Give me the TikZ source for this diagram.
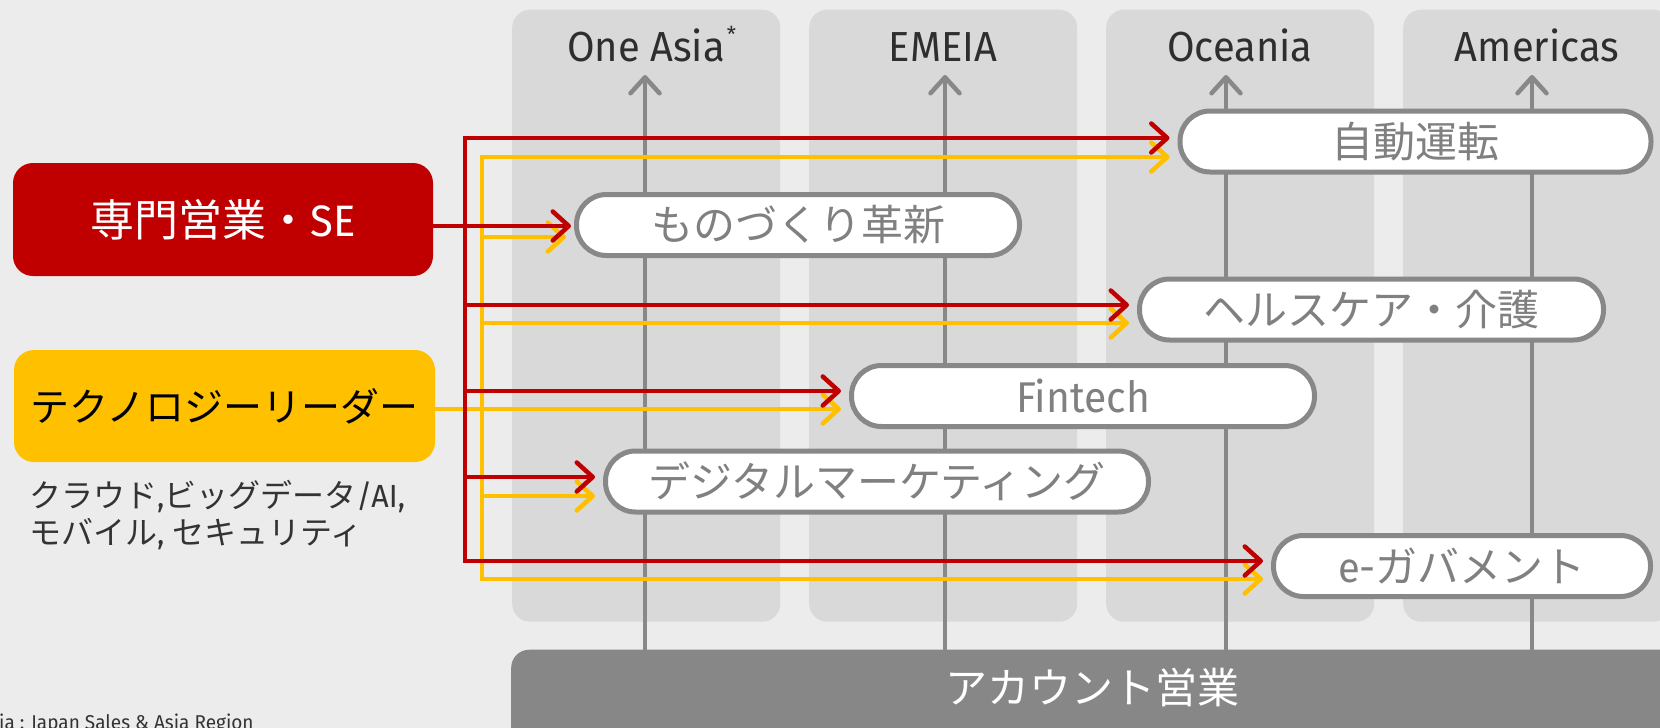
\documentclass[tikz,border=0pt]{standalone}
\usepackage{fontspec}
\setmainfont{Fira Sans}[FakeStretch=0.95]
\newfontfamily\jp{Noto Sans CJK JP}
\usetikzlibrary{arrows.meta,calc}
\definecolor{bgc}{HTML}{ECECEC}
\definecolor{colbg}{HTML}{D9D9D9}
\definecolor{barc}{HTML}{878787}
\definecolor{lanec}{HTML}{888888}
\definecolor{pilltext}{HTML}{808080}
\definecolor{labeltext}{HTML}{2E2E2E}
\definecolor{fjred}{HTML}{C00000}
\definecolor{fjyel}{HTML}{FFC000}
\definecolor{subtext}{HTML}{333333}
\tikzset{
  colbox/.style={fill=colbg, draw=none, rounded corners=18pt, minimum width=268pt, minimum height=612pt, inner sep=0pt, anchor=north west},
  barbox/.style={fill=barc, draw=none, rounded corners=18pt, minimum width=1250pt, minimum height=150pt, inner sep=0pt, anchor=north west},
  pill/.style={draw=lanec, line width=5pt, fill=white, rounded corners=30pt, minimum height=61pt, inner sep=0pt, text=pilltext, font=\fontsize{42pt}{50pt}\selectfont\jp},
  lbl/.style={text=labeltext, inner sep=0pt, anchor=base, font=\fontsize{42pt}{50pt}\selectfont},
  garrow/.style={draw=lanec, line width=4.5pt, -{Straight Barb[length=16pt,width=29pt,round]}},
  rline/.style={draw=fjred, line width=4.5pt},
  yline/.style={draw=fjyel, line width=4.5pt},
  rarrow/.style={rline, -{Straight Barb[length=16pt,width=29pt,round]}},
  yarrow/.style={yline, -{Straight Barb[length=16pt,width=29pt,round]}},
}
\begin{document}
\begin{tikzpicture}[x=1pt,y=-1pt]
\useasboundingbox (0,0) rectangle (1660,728);
\clip (0,0) rectangle (1660,728);
\fill[bgc] (0,0) rectangle (1660,728);
% columns
\node[colbox] (c1) at (512,9.5) {};
\node[colbox] (c2) at (809,9.5) {};
\node[colbox] (c3) at (1106,9.5) {};
\node[colbox] (c4) at (1403,9.5) {};
% bottom bar
\node[barbox] (bar) at (511,649.5) {};
\node[text=white, inner sep=0pt, font=\fontsize{42pt}{50pt}\selectfont\jp] (acct) at (1092,688) {アカウント営業};
% column labels
\node[lbl] (l1) at (646,61) {One Asia\rlap{\hspace{2pt}\raisebox{19pt}{\fontsize{22pt}{24pt}\selectfont *}}};
\node[lbl] (l2) at (943,61) {EMEIA};
\node[lbl] (l3) at (1240,61) {Oceania};
\node[lbl] (l4) at (1537,61) {Americas};
% gray lanes
\coordinate (a1) at (645,75);
\coordinate (a2) at (945,75);
\coordinate (a3) at (1226,75);
\coordinate (a4) at (1532,75);
\foreach \a in {a1,a2,a3,a4} \draw[garrow] (bar.north -| \a) -- (\a);
% left boxes
\node[fill=fjred, rounded corners=20pt, minimum width=420pt, minimum height=113pt, inner sep=0pt, text=white, font=\fontsize{44pt}{52pt}\selectfont] (se) at (223,219.5) {{\jp 専門営業・}SE};
\node[fill=fjyel, rounded corners=20pt, minimum width=421pt, minimum height=112pt, inner sep=0pt, text=black, font=\fontsize{39pt}{46pt}\selectfont\jp] (tl) at (224.5,406) {テクノロジーリーダー};
\node[anchor=north west, align=left, inner sep=0pt, text=subtext, font=\fontsize{32pt}{37pt}\selectfont] (sub) at (29,480) {{\jp クラウド},{\jp ビッグデータ}/AI,\\{\jp モバイル}, {\jp セキュリティ}};
\node[anchor=base west, inner sep=0pt, text=subtext, font=\fontsize{20pt}{24pt}\selectfont] (fn) at (-1,729) {ia : Japan Sales \& Asia Region};
% pills
\node[pill, minimum width=471pt] (jd) at (1415.5,141.5) {自動運転};
\node[pill, minimum width=443pt] (mono) at (798,225) {ものづくり革新};
\node[pill, minimum width=464pt] (hc) at (1371.5,309.5) {ヘルスケア・介護};
\node[pill, minimum width=463pt, font=\fontsize{43pt}{50pt}\selectfont] (fin) at (1083,396) {Fintech};
\node[pill, minimum width=543pt] (dm) at (877,481.5) {デジタルマーケティング};
\node[pill, minimum width=377pt] (eg) at (1462,566) {{\rmfamily e-}ガバメント};
% arrow end points
\coordinate (rt) at (465,0);
\coordinate (yt) at (482,0);
\coordinate (jd-r) at ($(jd.west)+(-8,-3.5)$);
\coordinate (jd-y) at ($(jd.west)+(-8,15.5)$);
\coordinate (mono-r) at ($(mono.west)+(-3,1)$);
\coordinate (mono-y) at ($(mono.west)+(-8,12)$);
\coordinate (hc-r) at ($(hc.west)+(-8,-4.5)$);
\coordinate (hc-y) at ($(hc.west)+(-8,13.5)$);
\coordinate (fin-r) at ($(fin.west)+(-8,-5)$);
\coordinate (fin-y) at ($(fin.west)+(-8,13)$);
\coordinate (dm-r) at ($(dm.west)+(-8,-4.5)$);
\coordinate (dm-y) at ($(dm.west)+(-8,14.5)$);
\coordinate (eg-r) at ($(eg.west)+(-8,-5)$);
\coordinate (eg-y) at ($(eg.west)+(-8,13)$);
% yellow
\draw[yline, line cap=rect] (yt |- jd-y) -- (yt |- eg-y);
\foreach \p in {jd,mono,hc,dm,eg} \draw[yarrow] (yt |- \p-y) -- (\p-y);
\draw[yarrow] (tl.east |- fin-y) -- (fin-y);
% red
\draw[rline, line cap=rect] (rt |- jd-r) -- (rt |- eg-r);
\foreach \p in {jd,hc,fin,dm,eg} \draw[rarrow] (rt |- \p-r) -- (\p-r);
\draw[rarrow] (se.east |- mono-r) -- (mono-r);
\end{tikzpicture}
\end{document}
